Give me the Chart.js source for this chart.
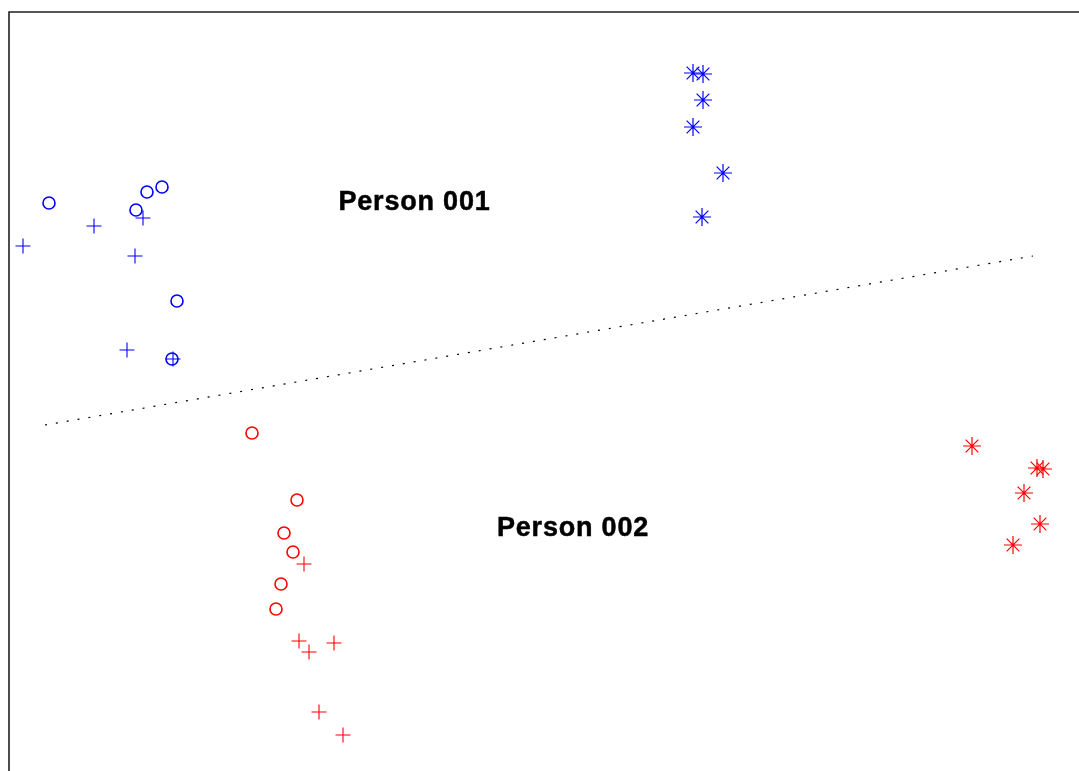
<!DOCTYPE html>
<html>
<head>
<meta charset="utf-8">
<script src="https://cdn.jsdelivr.net/npm/chart.js@4"></script>
<style>
html,body{margin:0;padding:0;background:#fff;overflow:hidden;}
#wrap{width:1079px;height:771px;}
</style>
</head>
<body>
<div id="wrap"><canvas id="c" width="1079" height="771"></canvas></div>
<script>
// Projection coordinates (arbitrary units)
const p001Circle = [[49,568],[136,561],[147,579],[162,584],[177,470],[172,412]];
const p001Plus   = [[23,525],[94,545],[143,553],[135,515],[127,421],[173,412]];
const p001Star   = [[693,698],[703,697],[703,671],[693,644],[723,598],[702,554]];
const p002Circle = [[252,338],[297,271],[284,238],[293,219],[281,187],[276,162]];
const p002Plus   = [[304,207],[299,130],[309,119],[334,128],[319,59],[343,36]];
const p002Star   = [[972,325],[1037,303],[1043,302],[1024,278],[1040,247],[1013,226]];
const boundary   = [[45,346],[1033,515]];
const frame      = [[9,0],[9,759],[1090,759]];
const labels     = [{text:'Person 001', x:414.5, y:568.5},{text:'Person 002', x:573, y:242}];
const xRange = [0,1079], yRange = [0,771];

const pts = a => a.map(([x,y]) => ({x,y}));
const BLUE = '#0000ff', RED = '#ff0000';

function scatter(data, color, style, radius, bw){
  return {type:'scatter', data:pts(data), pointStyle:style, pointRadius:radius,
    pointHoverRadius:radius, borderColor:color, backgroundColor:'rgba(0,0,0,0)',
    pointBorderWidth:bw, borderWidth:bw, showLine:false, clip:false};
}

const labelPlugin = {
  id:'labels',
  afterDatasetsDraw(chart){
    const {ctx, scales:{x, y}} = chart;
    ctx.save();
    ctx.fillStyle = '#000';
    ctx.strokeStyle = '#000';
    ctx.lineWidth = 0.5;
    ctx.font = 'bold 27px "Liberation Sans", Arial, sans-serif';
    ctx.textAlign = 'center';
    ctx.textBaseline = 'middle';
    try { ctx.letterSpacing = '0.8px'; } catch(e){}
    labels.forEach(l => {
      const px = x.getPixelForValue(l.x), py = y.getPixelForValue(l.y);
      ctx.fillText(l.text, px, py);
      ctx.strokeText(l.text, px, py);
    });
    ctx.restore();
  }
};

new Chart(document.getElementById('c'), {
  data:{datasets:[
    {type:'line', data:pts(frame), borderColor:'#222', borderWidth:1.6, pointRadius:0, fill:false, clip:false, tension:0},
    {type:'line', data:pts(boundary), borderColor:'#000', borderWidth:1.2, borderDash:[2,9], pointRadius:0, fill:false, clip:false, tension:0},
    scatter(p001Circle, BLUE, 'circle', 6, 1.6),
    scatter(p001Plus, BLUE, 'cross', 7.5, 1.1),
    scatter(p001Star, BLUE, 'star', 9, 1.2),
    scatter(p002Circle, RED, 'circle', 6, 1.6),
    scatter(p002Plus, RED, 'cross', 7.5, 1.1),
    scatter(p002Star, RED, 'star', 9, 1.2)
  ]},
  options:{
    responsive:false, animation:false, devicePixelRatio:1,
    layout:{padding:0, autoPadding:false},
    plugins:{legend:{display:false}, tooltip:{enabled:false}, title:{display:false}},
    scales:{
      x:{type:'linear', min:xRange[0], max:xRange[1], display:false},
      y:{type:'linear', min:yRange[0], max:yRange[1], display:false}
    }
  },
  plugins:[labelPlugin]
});
</script>
</body>
</html>
